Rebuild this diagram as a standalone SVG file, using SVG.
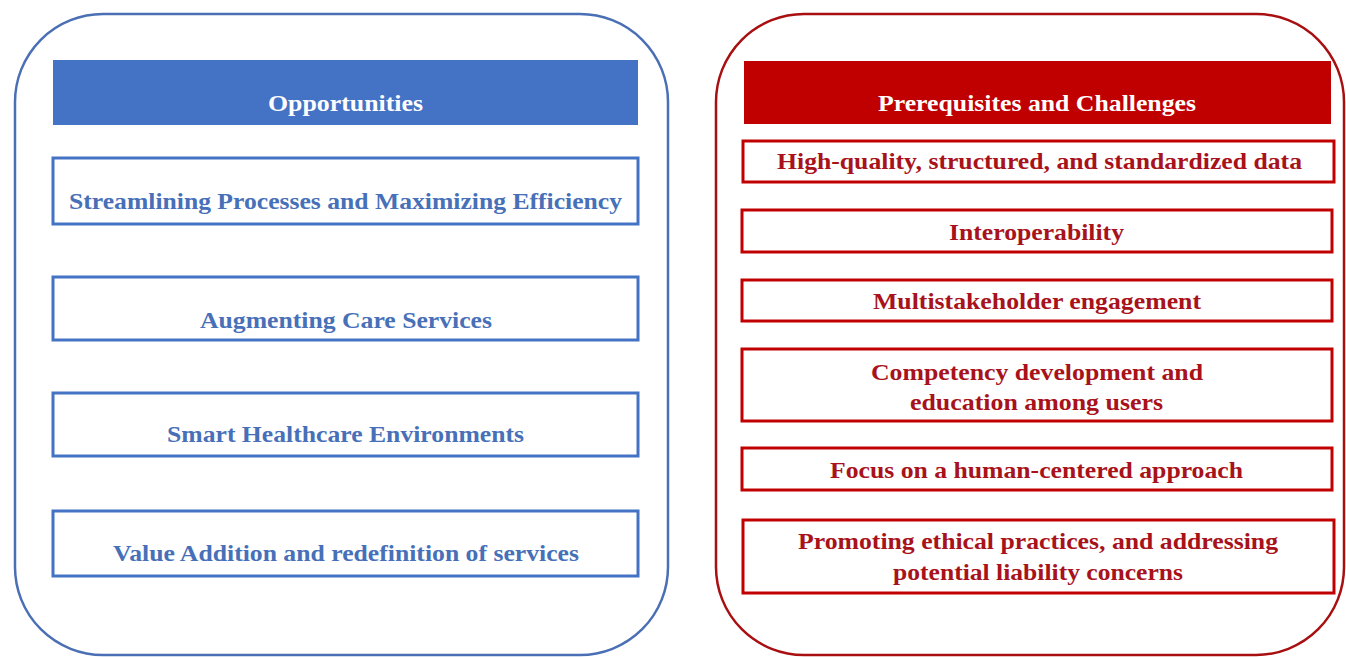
<svg xmlns="http://www.w3.org/2000/svg" width="1346" height="657" viewBox="0 0 1346 657">
<style>
.cont{fill:none;stroke-width:2.5}
.blue{stroke:#4a6fb5}
.red{stroke:#a80f10}
.hb{fill:#4472C4}
.hr{fill:#C00000}
.bbox{fill:#fff;stroke:#4472C4;stroke-width:3}
.rbox{fill:#fff;stroke:#C00000;stroke-width:3}
text{font-family:"Liberation Serif","Times New Roman",serif;font-weight:bold;text-anchor:middle;font-size:24px}
.ht{fill:#fff}
.bt{fill:#4770b8}
.rt{fill:#a8121a}
</style>
<rect width="1346" height="657" fill="#fff"/>
<g id="opportunities">
<rect class="cont blue" x="15" y="14" width="653" height="641" rx="88" ry="88"/>
<g id="opp-header"><rect class="hb" x="53" y="60" width="585" height="65"/><text class="ht" x="345.5" y="111" textLength="155" lengthAdjust="spacingAndGlyphs">Opportunities</text></g>
<g id="opp-1"><rect class="bbox" x="53" y="158" width="585" height="66"/><text class="bt" x="345.5" y="209" textLength="553" lengthAdjust="spacingAndGlyphs">Streamlining Processes and Maximizing Efficiency</text></g>
<g id="opp-2"><rect class="bbox" x="53" y="277" width="585" height="63"/><text class="bt" x="346" y="328" textLength="292" lengthAdjust="spacingAndGlyphs">Augmenting Care Services</text></g>
<g id="opp-3"><rect class="bbox" x="53" y="393" width="585" height="63"/><text class="bt" x="345.5" y="442" textLength="357" lengthAdjust="spacingAndGlyphs">Smart Healthcare Environments</text></g>
<g id="opp-4"><rect class="bbox" x="53" y="511" width="585" height="65"/><text class="bt" x="346" y="561" textLength="466" lengthAdjust="spacingAndGlyphs">Value Addition and redefinition of services</text></g>
</g>
<g id="challenges">
<rect class="cont red" x="716" y="14" width="628" height="641" rx="88" ry="88"/>
<g id="ch-header"><rect class="hr" x="744" y="61" width="587" height="63"/><text class="ht" x="1037" y="111" textLength="318" lengthAdjust="spacingAndGlyphs">Prerequisites and Challenges</text></g>
<g id="ch-1"><rect class="rbox" x="743" y="141" width="591" height="41"/><text class="rt" x="1039.5" y="169" textLength="525" lengthAdjust="spacingAndGlyphs">High-quality, structured, and standardized data</text></g>
<g id="ch-2"><rect class="rbox" x="742" y="210" width="590" height="42"/><text class="rt" x="1036.5" y="240" textLength="175" lengthAdjust="spacingAndGlyphs">Interoperability</text></g>
<g id="ch-3"><rect class="rbox" x="742" y="280" width="590" height="41"/><text class="rt" x="1037" y="309" textLength="328" lengthAdjust="spacingAndGlyphs">Multistakeholder engagement</text></g>
<g id="ch-4"><rect class="rbox" x="742" y="349" width="590" height="72"/><text class="rt" x="1037" y="380" textLength="332" lengthAdjust="spacingAndGlyphs">Competency development and</text><text class="rt" x="1036.5" y="410" textLength="253" lengthAdjust="spacingAndGlyphs">education among users</text></g>
<g id="ch-5"><rect class="rbox" x="742" y="448" width="590" height="42"/><text class="rt" x="1036.5" y="478" textLength="413" lengthAdjust="spacingAndGlyphs">Focus on a human-centered approach</text></g>
<g id="ch-6"><rect class="rbox" x="743" y="520" width="591" height="73"/><text class="rt" x="1038" y="549" textLength="480" lengthAdjust="spacingAndGlyphs">Promoting ethical practices, and addressing</text><text class="rt" x="1038" y="580" textLength="290" lengthAdjust="spacingAndGlyphs">potential liability concerns</text></g>
</g>
<g id="connectors"/>
</svg>
